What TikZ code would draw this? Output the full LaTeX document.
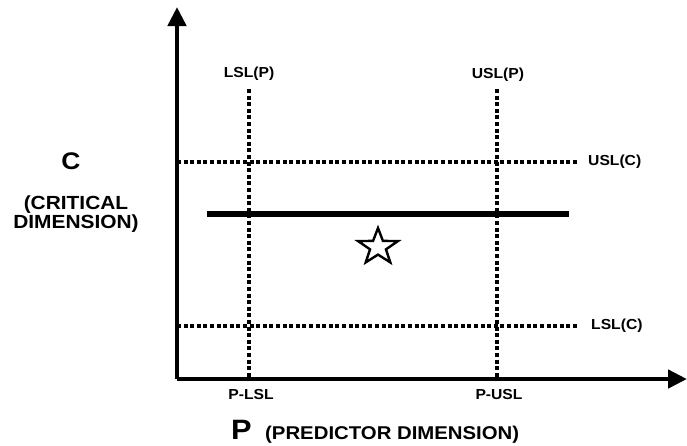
\documentclass[tikz,border=0pt]{standalone}
\usepackage{fontspec}
\setmainfont{Liberation Sans}
\usetikzlibrary{arrows.meta,shapes.geometric}
\newcommand{\widetxt}[1]{\scalebox{1.08}[1]{#1}}
\newcommand{\widertxt}[1]{\scalebox{1.1}[1]{#1}}
\tikzset{
  axisline/.style={line width=4.5pt,-{Triangle[length=19pt,width=18pt]}},
  dotline/.style={line width=4pt,dash pattern=on 4pt off 2.6pt},
  lbl/.style={font=\fontsize{14.5}{16}\selectfont\bfseries,inner sep=0pt},
  biglbl/.style={font=\fontsize{19}{19}\selectfont\bfseries,inner sep=0pt,align=center},
}
\begin{document}
\begin{tikzpicture}[x=1pt,y=-1pt]
\useasboundingbox (0,0) rectangle (687,445);
\coordinate (O) at (177,379);
\coordinate (ytop) at (177,7);
\coordinate (xend) at (687,379);
% dotted limit lines
\coordinate (lpt) at (248.5,89);
\coordinate (lpb) at (248.5,379);
\coordinate (upt) at (497,89);
\coordinate (upb) at (497,379);
\coordinate (ucl) at (177,162);
\coordinate (ucr) at (577,162);
\coordinate (lcl) at (177,325.5);
\coordinate (lcr) at (577,325.5);
\draw[dotline] (lpt) -- (lpb);
\draw[dotline] (upt) -- (upb);
\draw[dotline] (ucl) -- (ucr);
\draw[dotline] (lcl) -- (lcr);
% axes
\draw[axisline] (O) -- (ytop);
\draw[axisline] (O) -- (xend);
% thick line
\coordinate (tl) at (207,214);
\coordinate (tr) at (569,214);
\draw[line width=5.5pt] (tl) -- (tr);
% star
\node (star) [star,star points=5,star point ratio=2.5,draw,line width=2.4pt,minimum size=38pt,inner sep=0pt,xscale=1.1,transform shape] at (378,247) {};
% labels
\node[lbl] (lslp) at (249,74) {\widetxt{LSL(P)}};
\node[lbl] (uslp) at (498,75) {\widetxt{USL(P)}};
\node[lbl,anchor=west] (uslc) at (588,162) {\widetxt{USL(C)}};
\node[lbl,anchor=west] (lslc) at (591,326) {\widetxt{LSL(C)}};
\node[lbl] (plsl) at (251,394) {\widetxt{P-LSL}};
\node[lbl] (pusl) at (499,394) {\widetxt{P-USL}};
\node[font=\fontsize{24}{26}\selectfont\bfseries,inner sep=0pt] (C) at (71,161) {\widertxt{C}};
\node[biglbl] (crit) at (76,214) {\widertxt{(CRITICAL}\\\widertxt{DIMENSION)}};
\node[font=\fontsize{28}{30}\selectfont\bfseries,inner sep=0pt,text depth=0pt,anchor=base west] (P) at (231,439) {\widertxt{P}};
\node[font=\fontsize{18.5}{20}\selectfont\bfseries,inner sep=0pt,text depth=0pt,anchor=base west] (pd) at (265,439) {\widertxt{(PREDICTOR DIMENSION)}};
\end{tikzpicture}
\end{document}
